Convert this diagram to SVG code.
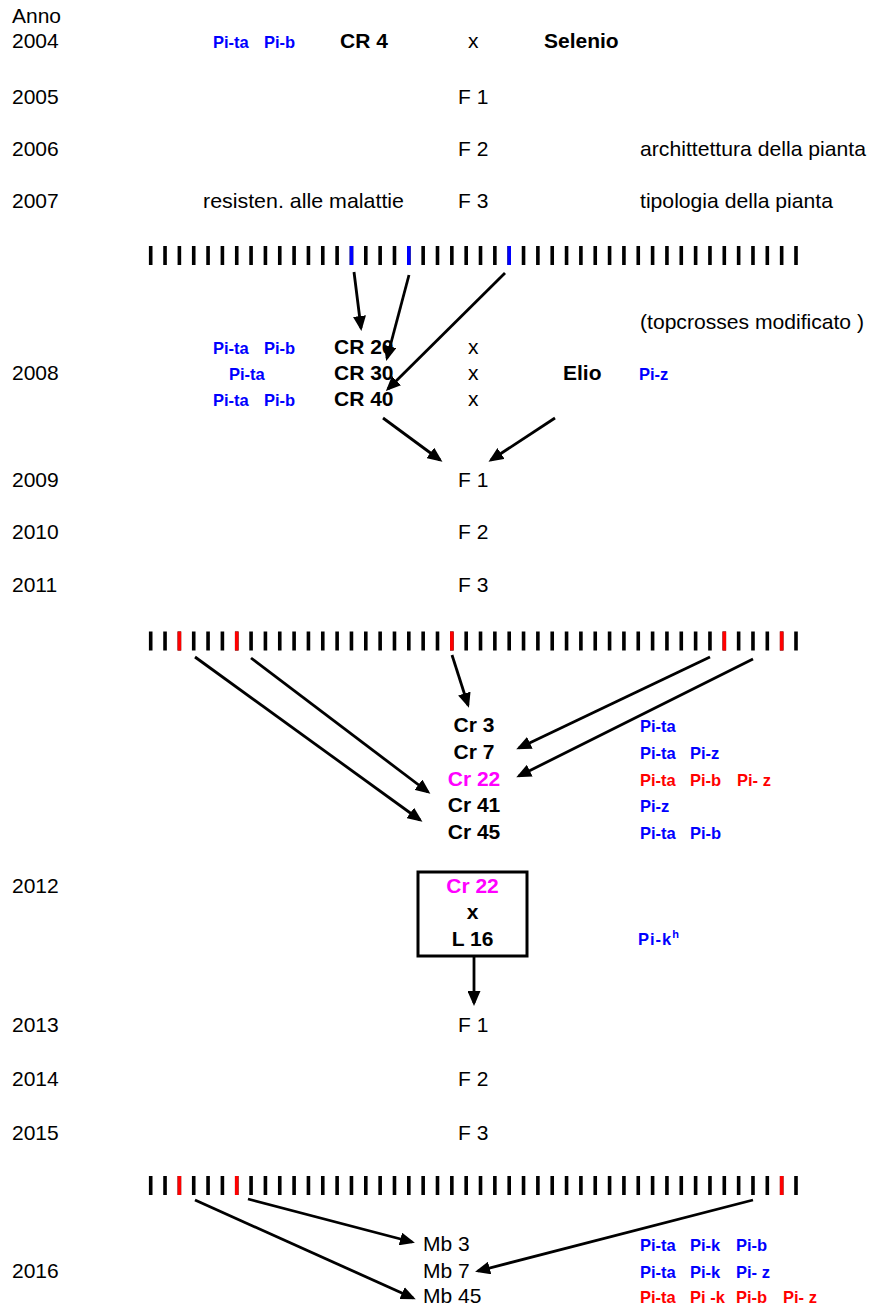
<svg xmlns="http://www.w3.org/2000/svg" width="871" height="1309" viewBox="0 0 871 1309">
<style>
text{font-family:"Liberation Sans",Arial,sans-serif;font-size:21px;fill:#000}
.b{font-weight:bold}
.pi{font-weight:bold;font-size:16.5px;fill:#0000ff}
.red{fill:#ff0000}
.mag{fill:#ff00ff}
.mid{text-anchor:middle}
.bars{stroke:#000;stroke-width:19;stroke-dasharray:3.6 10.74}
.blue{fill:#0000ff}
.rb{fill:#ff0000}
.conn line{stroke:#000;stroke-width:2.8;marker-end:url(#ah)}
</style>
<defs>
<marker id="ah" markerUnits="userSpaceOnUse" markerWidth="15" markerHeight="13" refX="12" refY="6.5" orient="auto">
<path d="M0,0 L15,6.5 L0,13 z" fill="#000"/>
</marker>
</defs>
<rect width="871" height="1309" fill="#fff"/>

<g id="years">
<text x="12" y="23">Anno</text>
<text x="12" y="48">2004</text>
<text x="12" y="104">2005</text>
<text x="12" y="156">2006</text>
<text x="12" y="208">2007</text>
<text x="12" y="380">2008</text>
<text x="12" y="487">2009</text>
<text x="12" y="539">2010</text>
<text x="12" y="592">2011</text>
<text x="12" y="893">2012</text>
<text x="12" y="1032">2013</text>
<text x="12" y="1086">2014</text>
<text x="12" y="1140">2015</text>
<text x="12" y="1278">2016</text>
</g>

<g id="cross2004">
<text class="pi" x="213" y="48">Pi-ta</text>
<text class="pi" x="264" y="48">Pi-b</text>
<text class="b" x="340" y="48">CR 4</text>
<text x="468" y="48">x</text>
<text class="b" x="544" y="48">Selenio</text>
</g>

<g id="gen1">
<text x="458" y="104">F 1</text>
<text x="458" y="156">F 2</text>
<text x="458" y="208">F 3</text>
<text x="640" y="156" textLength="226" lengthAdjust="spacingAndGlyphs">archittettura della pianta</text>
<text x="203" y="208" textLength="201" lengthAdjust="spacingAndGlyphs">resisten. alle malattie</text>
<text x="640" y="208" textLength="193" lengthAdjust="spacingAndGlyphs">tipologia della pianta</text>
</g>

<g id="bars1">
<line class="bars" x1="148.9" y1="255.5" x2="798" y2="255.5"/>
<rect class="blue" x="349.66" y="246" width="3.6" height="19"/>
<rect class="blue" x="407.02" y="246" width="3.6" height="19"/>
<rect class="blue" x="507.4" y="246" width="3.6" height="19"/>
</g>

<g id="cross2008">
<text x="640" y="329" textLength="224" lengthAdjust="spacingAndGlyphs">(topcrosses modificato )</text>
<text class="pi" x="213" y="354">Pi-ta</text>
<text class="pi" x="264" y="354">Pi-b</text>
<text class="b" x="334" y="354">CR 20</text>
<text x="468" y="354">x</text>
<text class="pi" x="229" y="380">Pi-ta</text>
<text class="b" x="334" y="380">CR 30</text>
<text x="468" y="380">x</text>
<text class="b" x="563" y="380">Elio</text>
<text class="pi" x="639" y="380">Pi-z</text>
<text class="pi" x="213" y="406">Pi-ta</text>
<text class="pi" x="264" y="406">Pi-b</text>
<text class="b" x="334" y="406">CR 40</text>
<text x="468" y="406">x</text>
</g>

<g id="gen2">
<text x="458" y="487">F 1</text>
<text x="458" y="539">F 2</text>
<text x="458" y="592">F 3</text>
</g>

<g id="bars2">
<line class="bars" x1="148.9" y1="641" x2="798" y2="641"/>
<rect class="rb" x="177.58" y="631.5" width="3.6" height="19"/>
<rect class="rb" x="234.94" y="631.5" width="3.6" height="19"/>
<rect class="rb" x="450.04" y="631.5" width="3.6" height="19"/>
<rect class="rb" x="722.5" y="631.5" width="3.6" height="19"/>
<rect class="rb" x="779.86" y="631.5" width="3.6" height="19"/>
</g>

<g id="selection2011">
<text class="b mid" x="474" y="732">Cr 3</text>
<text class="b mid" x="474" y="759">Cr 7</text>
<text class="b mid mag" x="474" y="786">Cr 22</text>
<text class="b mid" x="474" y="812">Cr 41</text>
<text class="b mid" x="474" y="839">Cr 45</text>
<text class="pi" x="640" y="732">Pi-ta</text>
<text class="pi" x="640" y="759">Pi-ta</text>
<text class="pi" x="690" y="759">Pi-z</text>
<text class="pi red" x="640" y="786">Pi-ta</text>
<text class="pi red" x="690" y="786">Pi-b</text>
<text class="pi red" x="737" y="786">Pi- z</text>
<text class="pi" x="640" y="812">Pi-z</text>
<text class="pi" x="640" y="839">Pi-ta</text>
<text class="pi" x="690" y="839">Pi-b</text>
</g>

<g id="box2012">
<rect x="418" y="872" width="109" height="84" fill="none" stroke="#000" stroke-width="3"/>
<text class="b mid mag" x="472.5" y="893">Cr 22</text>
<text class="b mid" x="472.5" y="919">x</text>
<text class="b mid" x="472.5" y="946">L 16</text>
<text class="pi" x="638" y="945" letter-spacing="1">Pi-k<tspan font-size="11" dy="-7">h</tspan></text>
</g>

<g id="gen3">
<text x="458" y="1032">F 1</text>
<text x="458" y="1086">F 2</text>
<text x="458" y="1140">F 3</text>
</g>

<g id="bars3">
<line class="bars" x1="148.9" y1="1185.5" x2="798" y2="1185.5"/>
<rect class="rb" x="177.58" y="1176" width="3.6" height="19"/>
<rect class="rb" x="234.94" y="1176" width="3.6" height="19"/>
<rect class="rb" x="779.86" y="1176" width="3.6" height="19"/>
</g>

<g id="result2016">
<text x="423" y="1251">Mb 3</text>
<text x="423" y="1278">Mb 7</text>
<text x="423" y="1303">Mb 45</text>
<text class="pi" x="640" y="1251">Pi-ta</text>
<text class="pi" x="690" y="1251">Pi-k</text>
<text class="pi" x="736" y="1251">Pi-b</text>
<text class="pi" x="640" y="1278">Pi-ta</text>
<text class="pi" x="690" y="1278">Pi-k</text>
<text class="pi" x="736" y="1278">Pi- z</text>
<text class="pi red" x="640" y="1303">Pi-ta</text>
<text class="pi red" x="690" y="1303">Pi -k</text>
<text class="pi red" x="736" y="1303">Pi-b</text>
<text class="pi red" x="783" y="1303">Pi- z</text>
</g>

<g id="connectors" class="conn">
<line x1="354" y1="272" x2="361" y2="328"/>
<line x1="409" y1="275" x2="387" y2="358"/>
<line x1="505" y1="273" x2="388" y2="389"/>
<line x1="383" y1="418" x2="440" y2="460"/>
<line x1="555" y1="418" x2="491" y2="460"/>
<line x1="452" y1="655" x2="468" y2="705"/>
<line x1="195" y1="657" x2="420" y2="820"/>
<line x1="251" y1="658" x2="428" y2="792"/>
<line x1="710" y1="657" x2="519" y2="748"/>
<line x1="753" y1="659" x2="519" y2="776"/>
<line x1="474" y1="957" x2="474" y2="1003"/>
<line x1="248" y1="1199" x2="412" y2="1242"/>
<line x1="195" y1="1200" x2="413" y2="1298"/>
<line x1="753" y1="1200" x2="478" y2="1271"/>
</g>
</svg>
